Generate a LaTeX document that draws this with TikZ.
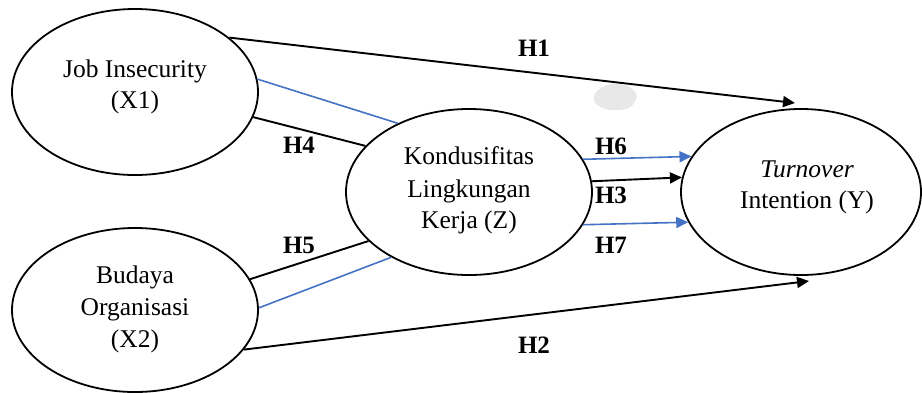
\documentclass[tikz,border=0pt]{standalone}
\usepackage{fontspec}
\setmainfont{Liberation Serif}
\usetikzlibrary{shapes.geometric,arrows.meta}
\definecolor{lnblue}{RGB}{68,114,196}
\tikzset{
  var/.style={ellipse,draw=black,line width=1.8pt,minimum width=#1,inner sep=0pt},
  txt/.style={anchor=base,inner sep=0pt,font=\fontsize{25.5}{31}\selectfont},
  hlab/.style={anchor=base,inner sep=0pt,font=\fontsize{25}{30}\selectfont\bfseries},
  blk/.style={line width=1.9pt,black},
  blu/.style={line width=1.6pt,lnblue},
  arr/.style={-{Triangle[length=12pt,width=11pt]}},
}
\begin{document}
\begin{tikzpicture}[x=1pt,y=-1pt]
\useasboundingbox (0,0) rectangle (922,392);
% smudge
\fill[black!9] plot[smooth cycle] coordinates {(596,92) (610,84) (628,86) (637,96) (629,108) (609,110) (595,103)};
% ellipses
\node[var=246pt,minimum height=166pt] (x1) at (135,92) {};
\node[var=246pt,minimum height=164pt] (x2) at (135,310) {};
\node[var=246pt,minimum height=166pt] (z) at (469,192) {};
\node[var=240pt,minimum height=166pt] (y) at (801,192) {};
% texts
\node[txt] (x1a) at (135,77) {Job Insecurity};
\node[txt] (x1b) at (135,108) {(X1)};
\node[txt] (x2a) at (135,283) {Budaya};
\node[txt] (x2b) at (135,315) {Organisasi};
\node[txt] (x2c) at (135,347) {(X2)};
\node[txt] (za) at (469,164) {Kondusifitas};
\node[txt] (zb) at (469,197) {Lingkungan};
\node[txt] (zc) at (469,228) {Kerja (Z)};
\node[txt] (ya) at (807,177) {\itshape Turnover};
\node[txt] (yb) at (807,208) {Intention (Y)};
% free ends
\coordinate (h1end) at (795,103);
\coordinate (h2end) at (809,281);
% connectors
\draw[blk,arr] (x1.30) -- (h1end);
\draw[blk,arr] (x2.-20) -- (h2end);
\draw[blu] (x1.6.5) -- (z.136);
\draw[blk] (x1.-12) -- (z.156);
\draw[blk] (x2.15) -- (z.206.5);
\draw[blu] (x2.1) -- (z.220.5);
\draw[blu,arr] (z.16.6) -- (y.162.5);
\draw[blk,arr] (z.5.6) -- (y.173.8);
\draw[blu,arr] (z.-16.1) -- (y.195.3);
% labels
\node[hlab] (h1) at (534,56) {H1};
\node[hlab] (h2) at (534,353) {H2};
\node[hlab] (h4) at (299,153) {H4};
\node[hlab] (h5) at (299,253) {H5};
\node[hlab] (h6) at (611,154) {H6};
\node[hlab] (h3) at (611,203) {H3};
\node[hlab] (h7) at (611,253) {H7};
\end{tikzpicture}
\end{document}
